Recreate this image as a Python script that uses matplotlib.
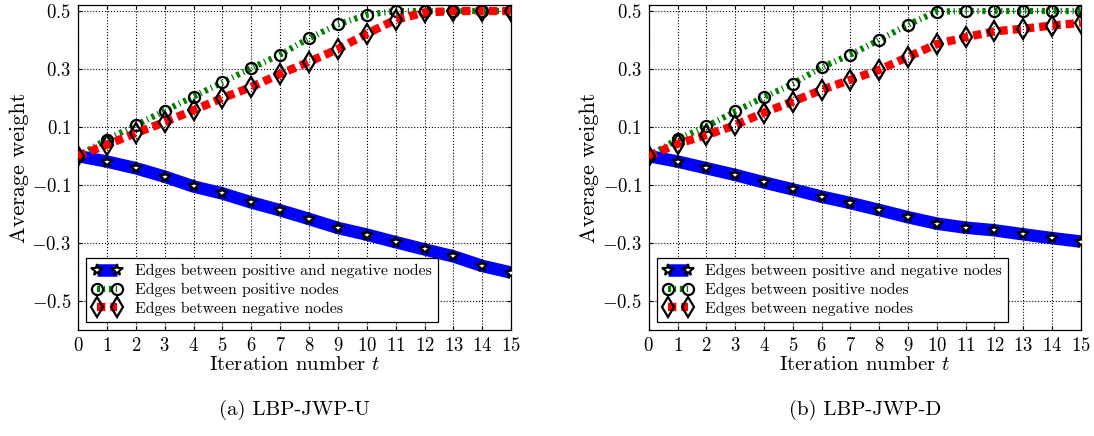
"""Average edge weight per iteration for LBP-JWP-U and LBP-JWP-D."""

import matplotlib
matplotlib.use("Agg")
import matplotlib.pyplot as plt
from matplotlib.ticker import FuncFormatter

plt.rcParams["font.family"] = "serif"
plt.rcParams["font.serif"] = ["cmr10", "DejaVu Serif"]
plt.rcParams["mathtext.fontset"] = "cm"
plt.rcParams["axes.unicode_minus"] = False

ITERS = list(range(16))

# (a) LBP-JWP-U
U_POS_NEG = [0.0, -0.019, -0.042, -0.071, -0.105, -0.129, -0.16, -0.187,
             -0.217, -0.248, -0.271, -0.297, -0.322, -0.346, -0.379, -0.402]
U_POS = [0.0, 0.057, 0.106, 0.156, 0.205, 0.254, 0.303, 0.35,
         0.406, 0.454, 0.487, 0.5, 0.5, 0.5, 0.5, 0.5]
U_NEG = [0.0, 0.039, 0.079, 0.117, 0.158, 0.2, 0.238, 0.283,
         0.325, 0.369, 0.422, 0.47, 0.495, 0.5, 0.5, 0.5]

# (b) LBP-JWP-D
D_POS_NEG = [0.0, -0.019, -0.042, -0.065, -0.091, -0.115, -0.14, -0.162,
             -0.186, -0.211, -0.233, -0.247, -0.256, -0.27, -0.283, -0.295]
D_POS = [0.0, 0.058, 0.102, 0.154, 0.203, 0.249, 0.306, 0.35,
         0.4, 0.453, 0.498, 0.5, 0.5, 0.5, 0.5, 0.5]
D_NEG = [0.0, 0.042, 0.072, 0.106, 0.15, 0.188, 0.228, 0.263,
         0.297, 0.342, 0.386, 0.41, 0.43, 0.439, 0.45, 0.459]

LABELS = ["Edges between positive and negative nodes",
          "Edges between positive nodes",
          "Edges between negative nodes"]
YTICKS = [-0.5, -0.3, -0.1, 0.1, 0.3, 0.5]
CAPTIONS = ["(a) LBP-JWP-U", "(b) LBP-JWP-D"]


def draw(ax, pos_neg, pos, neg):
    ax.plot(ITERS, pos_neg, color="#0000ff", lw=9, solid_capstyle="butt",
            marker="*", ms=8.5, mfc="white", mec="black", mew=1.5,
            label=LABELS[0], zorder=3)
    ax.plot(ITERS, pos, color="#008000", lw=4.5,
            linestyle=(0, (0.5, 0.6, 0.2, 0.6)),
            marker="o", ms=8, mfc="none", mec="black", mew=1.6,
            label=LABELS[1], zorder=3)
    ax.plot(ITERS, neg, color="#ff0000", lw=6, linestyle=(0, (1.0, 0.6)),
            marker="d", ms=10.5, mfc="none", mec="black", mew=1.6,
            label=LABELS[2], zorder=3)

    ax.set_xlim(0, 15)
    ax.set_ylim(-0.6, 0.52)
    ax.set_xticks(ITERS)
    ax.set_yticks(YTICKS)
    ax.yaxis.set_major_formatter(FuncFormatter(lambda v, _: f"${v:.1f}$"))
    ax.xaxis.set_major_formatter(FuncFormatter(lambda v, _: f"${int(v)}$"))
    ax.tick_params(direction="in", top=True, right=True, length=3,
                   labelsize=13.5, pad=5)
    ax.grid(True, color="black", linestyle=":", linewidth=0.8)
    ax.set_xlabel("Iteration number $t$", fontsize=15, labelpad=1)
    ax.set_ylabel("Average weight", fontsize=16, labelpad=2)
    for s in ax.spines.values():
        s.set_linewidth(0.9)

    leg = ax.legend(loc="lower left", fontsize=11.3, numpoints=2,
                    handlelength=1.9, handletextpad=0.8,
                    borderaxespad=0.5, labelspacing=0.3, fancybox=False,
                    framealpha=1, edgecolor="black", borderpad=0.4)
    leg.get_frame().set_linewidth(0.9)


def main():
    fig = plt.figure(figsize=(10.94, 4.36), dpi=100)
    ax1 = fig.add_axes([0.0713, 0.243, 0.396, 0.745])
    ax2 = fig.add_axes([0.593, 0.243, 0.395, 0.745])
    draw(ax1, U_POS_NEG, U_POS, U_NEG)
    draw(ax2, D_POS_NEG, D_POS, D_NEG)
    for ax, cap in zip((ax1, ax2), CAPTIONS):
        box = ax.get_position()
        fig.text((box.x0 + box.x1) / 2, 0.06, cap, ha="center", va="center",
                 fontsize=15)
    fig.savefig("out.png", dpi=100)
    plt.close(fig)


if __name__ == "__main__":
    main()
